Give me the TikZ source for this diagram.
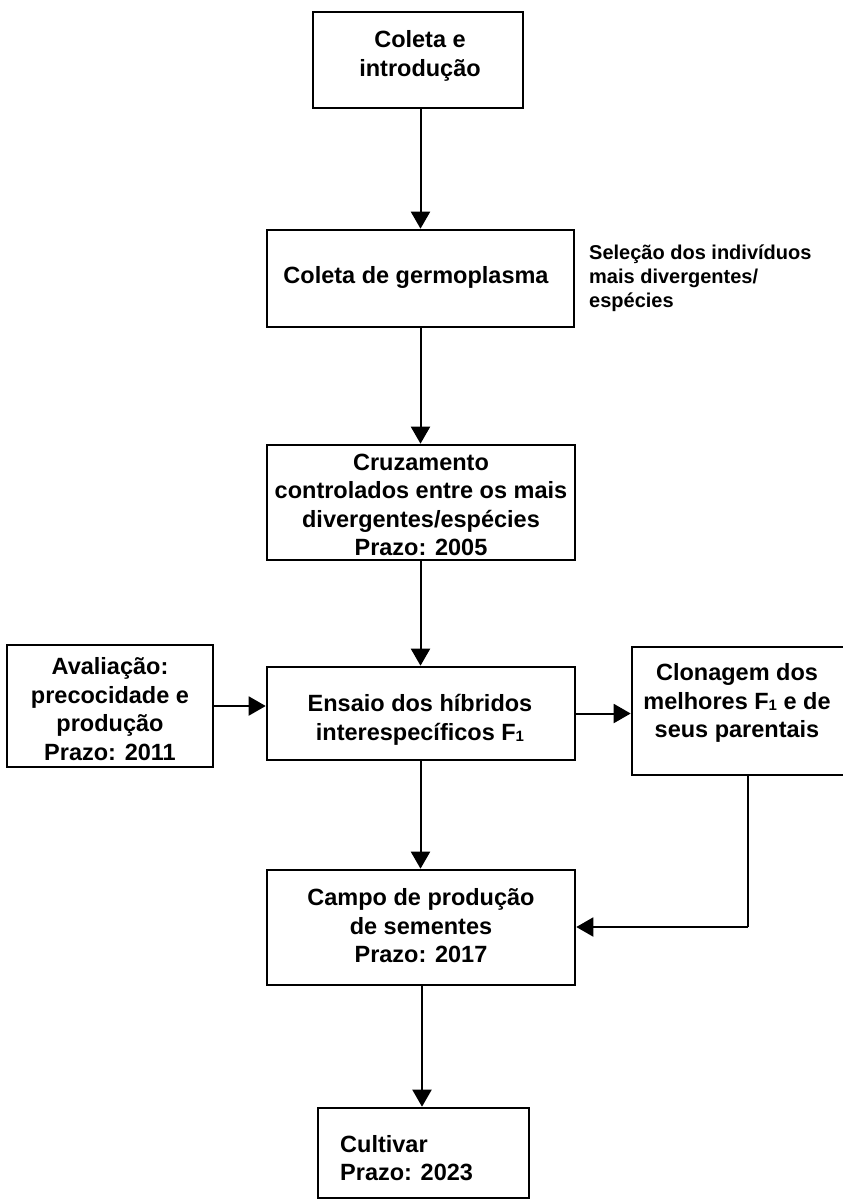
\documentclass[tikz,border=0pt]{standalone}
\usepackage{fontspec}
\setmainfont{Liberation Sans}
\usetikzlibrary{arrows.meta}

% small index digit, as in F1
\newcommand{\idx}[1]{\raisebox{-0.12ex}{\fontsize{15}{15}\selectfont #1}}

\tikzset{
  stagebox/.style={draw=black, line width=2.6pt, fill=none, inner sep=0pt},
  boxtext/.style={inner sep=0pt, align=center, font=\bfseries\fontsize{23.5}{28.5}\selectfont},
  sidenote/.style={inner sep=0pt, align=left, anchor=west, font=\bfseries\fontsize{20}{24}\selectfont},
  flow/.style={line width=2pt, -{Triangle[width=19pt,length=17pt]}},
  wire/.style={line width=2pt}
}

\begin{document}
\begin{tikzpicture}[x=1pt,y=-1pt]
  \useasboundingbox (0,0) rectangle (843,1202);
  \fill[white] (0,0) rectangle (843,1202);

  % boxes (centre, width, height)
  \node[stagebox, minimum width=210pt, minimum height=96pt]  (b1) at (418,60)    {};
  \node[stagebox, minimum width=307pt, minimum height=97pt]  (b2) at (420.5,278.5) {};
  \node[stagebox, minimum width=308pt, minimum height=115pt] (b3) at (421,502.5) {};
  \node[stagebox, minimum width=308pt, minimum height=93pt]  (b4) at (421,713.5) {};
  \node[stagebox, minimum width=206pt, minimum height=122pt] (b5) at (110,706)   {};
  \node[stagebox, minimum width=216pt, minimum height=128pt] (b6) at (740,711)   {};
  \node[stagebox, minimum width=308pt, minimum height=115pt] (b7) at (421,927.5) {};
  \node[stagebox, minimum width=211pt, minimum height=90pt]  (b8) at (423.5,1153) {};

  % texts
  \node[boxtext] (t1) at (420,56)  {Coleta e\\introdução};
  \node[boxtext] (t2) at (416,277) {Coleta de germoplasma};
  \node[sidenote] (t2n) at (589,278) {Seleção dos indivíduos\\mais divergentes/\\espécies};
  \node[boxtext] (t3) at (421,505) {Cruzamento\\controlados entre os mais\\divergentes/espécies\\Prazo: 2005};
  \node[boxtext] (t4) at (420,720) {Ensaio dos híbridos\\interespecíficos F\idx{1}};
  \node[boxtext] (t5) at (110,709) {Avaliação:\\precocidade e\\produção\\Prazo: 2011};
  \node[boxtext] (t6) at (737,703) {Clonagem dos\\melhores F\idx{1} e de\\seus parentais};
  \node[boxtext] (t7) at (421,926) {Campo de produção\\de sementes\\Prazo: 2017};
  \node[boxtext, align=left, anchor=west] (t8) at (340,1158) {Cultivar\\Prazo: 2023};

  % connectors
  \coordinate (colx) at (420.5,0);
  \draw[flow] (b1.south -| colx) -- (b2.north -| colx);
  \draw[flow] (b2.south -| colx) -- (b3.north -| colx);
  \draw[flow] (b3.south -| colx) -- (b4.north -| colx);
  \draw[flow] (b4.south -| colx) -- (b7.north -| colx);
  \coordinate (lowx) at (422,0);
  \draw[flow] (b7.south -| lowx) -- (b8.north -| lowx);
  \draw[flow] (b5.east) -- (b5.east -| b4.west);
  \draw[flow] (b4.east) -- (b4.east -| b6.west);
  \coordinate (turn) at (748,927);
  \draw[wire] (b6.south -| turn) -- (turn);
  \draw[flow] (turn) -- (b7.east |- turn);
\end{tikzpicture}
\end{document}
